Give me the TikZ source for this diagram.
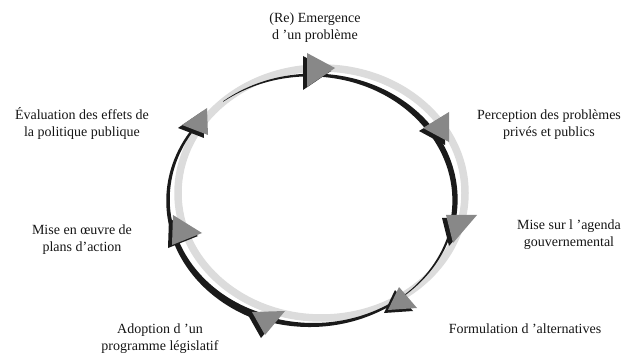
\documentclass[tikz,border=0pt]{standalone}
\usepackage{fontspec}
\setmainfont{Liberation Serif}
\definecolor{darkc}{HTML}{1A1A1A}
\definecolor{lightc}{HTML}{DCDCDC}
\definecolor{headc}{HTML}{888888}
\definecolor{textc}{HTML}{151515}
\newcommand\darkseg[4]{%
  \fill[darkc] plot[domain=#1:#2,samples=40,variable=\t]
    ({311.5+(143.5+((#3)+((#4)-(#3))*(\t-(#1))/((#2)-(#1)))/2)*cos(\t)},
     {154+(125+((#3)+((#4)-(#3))*(\t-(#1))/((#2)-(#1)))/2)*sin(\t)})
    -- plot[domain=#2:#1,samples=40,variable=\t]
    ({311.5+(143.5-((#3)+((#4)-(#3))*(\t-(#1))/((#2)-(#1)))/2)*cos(\t)},
     {154+(125-((#3)+((#4)-(#3))*(\t-(#1))/((#2)-(#1)))/2)*sin(\t)})
    -- cycle;}
\begin{document}
\begin{tikzpicture}[x=1pt,y=1pt,
  lbl/.style={align=center,inner sep=0pt,text=textc,font=\fontsize{14}{17}\selectfont},
  headshape/.style={fill=headc},
  shadowshape/.style={fill=darkc}]
\useasboundingbox (0,0) rectangle (627,354);
% light ring
\draw[lightc,line width=7.5pt] (321.5,161) ellipse [x radius=143.5, y radius=125];
% dark segments (clockwise)
\darkseg{87}{33}{3}{6.5}
\darkseg{33}{-11}{6}{5}
\darkseg{-11}{-50}{2.6}{0.8}
\darkseg{-53}{-108}{2}{5}
\darkseg{-108}{-164.5}{8}{5}
\darkseg{-164.5}{-218.5}{4}{2.2}
\darkseg{-232}{-273}{0.5}{3}
% arrowheads: shadows then heads
\foreach \a/\b/\c [count=\i] in {
  {(307,301)}/{(335,286)}/{(307,267)},
  {(449,242)}/{(423,226)}/{(449,212)},
  {(446,139)}/{(477,139)}/{(453,111)},
  {(399,67)}/{(417,46)}/{(388,44)},
  {(252,42)}/{(285,43)}/{(265,19)},
  {(173,139)}/{(202,121)}/{(172,109)},
  {(207,246)}/{(182,229)}/{(208,219)}}{
  \fill[shadowshape,shift={(-4,-3)}] \a -- \b -- \c -- cycle;
  \fill[headshape] \a -- \b -- \c -- cycle;
}
% labels
\node[lbl] (emergence) at (315,326) {(Re) Emergence\\d ’un problème};
\node[lbl] (perception) at (549,229.5) {Perception des problèmes\\privés et publics};
\node[lbl] (agenda) at (569,119) {Mise sur l ’agenda\\gouvernemental};
\node[lbl] (formulation) at (525,25) {Formulation d ’alternatives};
\node[lbl] (adoption) at (160,15) {Adoption d ’un\\programme législatif};
\node[lbl] (oeuvre) at (82,114) {Mise en œuvre de\\plans d’action};
\node[lbl] (evaluation) at (82,230.5) {Évaluation des effets de\\la politique publique};
\end{tikzpicture}
\end{document}
